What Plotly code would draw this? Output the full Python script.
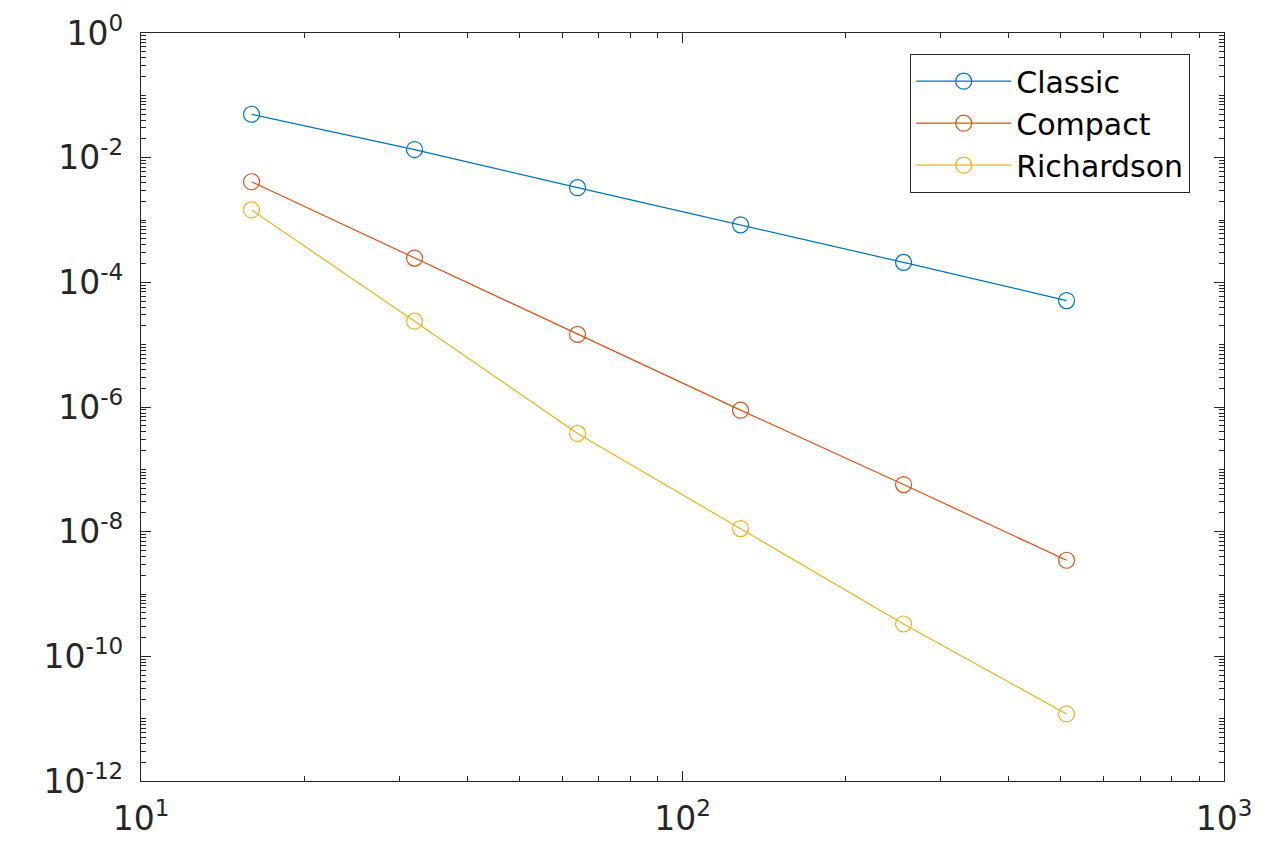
import plotly.graph_objects as go

n = [16, 32, 64, 128, 256, 512]
classic = [4.97e-2, 1.35e-2, 3.3e-3, 8.36e-4, 2.09e-4, 5.1e-5]
compact = [4.11e-3, 2.45e-4, 1.46e-5, 8.9e-7, 5.7e-8, 3.48e-9]
richardson = [1.45e-3, 2.38e-5, 3.77e-7, 1.12e-8, 3.30e-10, 1.19e-11]

series_names = ["Classic", "Compact", "Richardson"]
series_colors = ["#0072BD", "#D95319", "#EDB120"]

y_tickvals = [10.0 ** k for k in range(-12, 1, 2)]
y_ticktext = ["10<sup>%d</sup>" % k for k in range(-12, 1, 2)]
x_tickvals = [10.0, 100.0, 1000.0]
x_ticktext = ["10<sup>1</sup>", "10<sup>2</sup>", "10<sup>3</sup>"]

y_minor = [m * 10.0 ** k for k in range(-12, 0) for m in range(1, 10) if not (m == 1 and k % 2 == 0)]
x_minor = [m * 10.0 ** k for k in range(1, 3) for m in range(2, 10)]

fig = go.Figure()
for name, vals, col in zip(series_names, [classic, compact, richardson], series_colors):
    fig.add_trace(go.Scatter(
        x=n, y=vals, name=name, mode="lines+markers",
        line=dict(color=col, width=1.2),
        marker=dict(symbol="circle-open", size=16, color=col, line=dict(width=1.2, color=col)),
    ))

axis_col = "#262626"
font_family = "DejaVu Sans, Arial, sans-serif"

fig.update_layout(
    width=1267, height=847,
    margin=dict(l=133, r=51, t=25, b=74),
    paper_bgcolor="white", plot_bgcolor="white",
    font=dict(family=font_family, size=33, color=axis_col),
    showlegend=True,
    legend=dict(
        x=0.9686, y=0.972, xanchor="right", yanchor="top",
        bgcolor="white", bordercolor=axis_col, borderwidth=1.2,
        font=dict(family=font_family, size=30, color="black"),
        tracegroupgap=0, itemwidth=95,
    ),
)

fig.update_xaxes(
    type="log", range=[1, 3], automargin=False,
    tickmode="array", tickvals=x_tickvals, ticktext=x_ticktext,
    ticks="inside", ticklen=10, tickwidth=1, tickcolor=axis_col,
    showline=True, linecolor=axis_col, linewidth=1.2, mirror="ticks",
    showgrid=False, zeroline=False, ticklabelstandoff=8, ticklabeloverflow="allow",
    tickfont=dict(size=33, color=axis_col),
    minor=dict(tickmode="array", tickvals=x_minor, ticks="inside", ticklen=5, tickcolor=axis_col, showgrid=False),
)
fig.update_yaxes(
    type="log", range=[-12, 0], automargin=False,
    tickmode="array", tickvals=y_tickvals, ticktext=y_ticktext,
    ticks="inside", ticklen=10, tickwidth=1, tickcolor=axis_col,
    showline=True, linecolor=axis_col, linewidth=1.2, mirror="ticks",
    showgrid=False, zeroline=False, ticklabelstandoff=10, ticklabeloverflow="allow",
    tickfont=dict(size=33, color=axis_col),
    minor=dict(tickmode="array", tickvals=y_minor, ticks="inside", ticklen=5, tickcolor=axis_col, showgrid=False),
)

fig.write_html("out.html")
